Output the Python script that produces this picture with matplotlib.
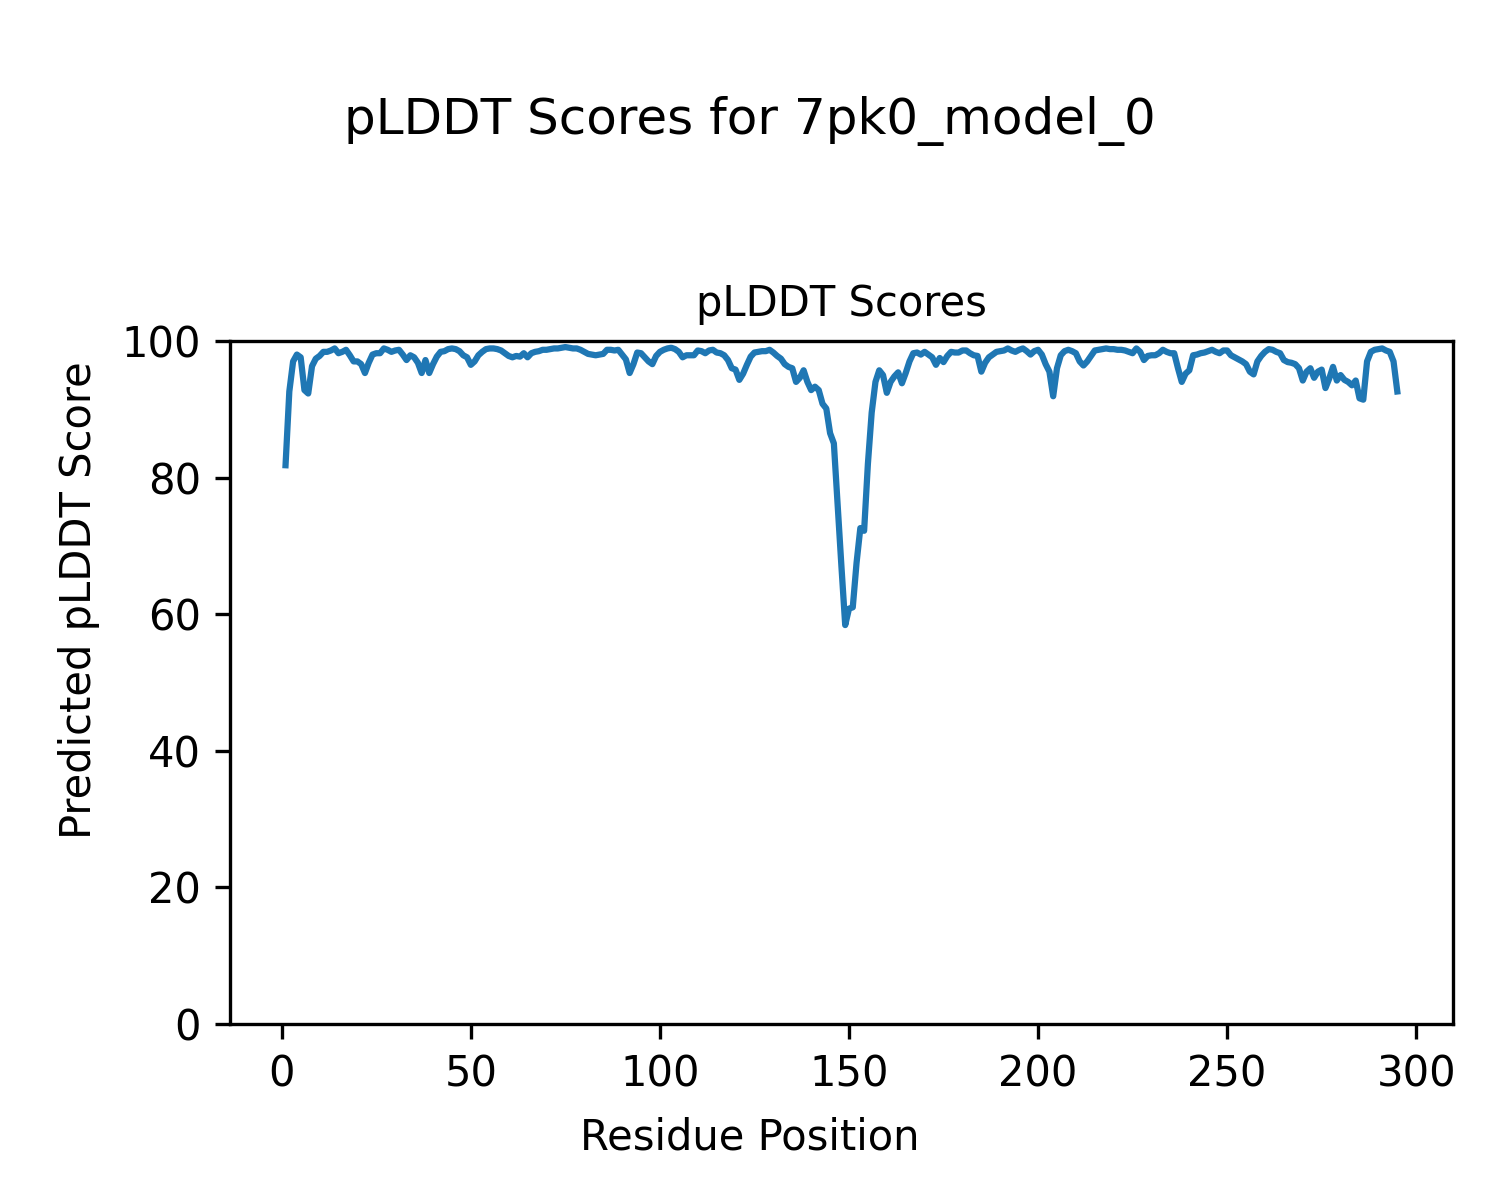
import numpy as np
import matplotlib
matplotlib.use("Agg")
import matplotlib.pyplot as plt

# pLDDT per residue
scores = [
    81.8, 92.6, 97.0, 98.0, 97.6, 92.8, 92.3, 96.3, 97.4, 97.8,
    98.4, 98.4, 98.6, 98.9, 98.2, 98.4, 98.7, 97.9, 97.0, 97.0,
    96.6, 95.3, 96.8, 98.0, 98.2, 98.2, 98.9, 98.7, 98.4, 98.6,
    98.7, 98.0, 97.2, 97.9, 97.6, 96.8, 95.3, 97.2, 95.3, 96.6,
    97.7, 98.4, 98.5, 98.8, 98.9, 98.8, 98.5, 97.9, 97.6, 96.5,
    97.0, 97.9, 98.4, 98.8, 98.9, 98.9, 98.8, 98.6, 98.2, 97.8,
    97.6, 97.8, 97.7, 98.2, 97.6, 98.2, 98.4, 98.5, 98.7, 98.7,
    98.8, 98.9, 98.9, 99.0, 99.1, 99.0, 98.9, 98.9, 98.7, 98.4,
    98.1, 98.0, 97.9, 98.0, 98.1, 98.7, 98.7, 98.6, 98.7, 98.0,
    97.3, 95.3, 96.6, 98.3, 98.2, 97.6, 97.0, 96.6, 97.8, 98.4,
    98.7, 98.9, 99.0, 98.8, 98.4, 97.6, 97.9, 97.9, 97.9, 98.6,
    98.5, 98.2, 98.6, 98.7, 98.3, 98.2, 97.9, 97.2, 96.0, 95.8,
    94.3, 95.2, 96.5, 97.7, 98.3, 98.4, 98.5, 98.5, 98.7, 98.3,
    97.8, 97.4, 96.6, 96.2, 96.0, 94.0, 94.6, 95.7, 94.0, 92.8,
    93.3, 92.8, 90.8, 90.1, 86.5, 85.0, 76.0, 67.0, 58.4, 60.8,
    61.0, 67.5, 72.6, 72.2, 82.0, 89.5, 94.0, 95.7, 95.0, 92.4,
    94.0, 94.8, 95.4, 93.8, 95.3, 97.0, 98.2, 98.3, 98.0, 98.4,
    98.0, 97.6, 96.5, 97.5, 96.9, 97.8, 98.4, 98.3, 98.3, 98.6,
    98.6, 98.2, 97.9, 97.8, 95.5, 96.8, 97.6, 98.0, 98.4, 98.5,
    98.6, 98.9, 98.6, 98.4, 98.7, 98.9, 98.5, 98.0, 98.5, 98.7,
    98.0, 96.6, 95.5, 91.9, 96.0, 97.9, 98.5, 98.7, 98.5, 98.2,
    97.0, 96.4, 97.0, 97.8, 98.6, 98.7, 98.8, 98.9, 98.8, 98.8,
    98.7, 98.7, 98.6, 98.4, 98.2, 98.9, 98.4, 97.2, 97.8, 97.9,
    97.9, 98.2, 98.7, 98.4, 98.2, 98.2, 96.0, 94.0, 95.2, 95.7,
    97.9, 98.0, 98.2, 98.3, 98.5, 98.7, 98.4, 98.2, 98.6, 98.6,
    97.9, 97.6, 97.3, 97.0, 96.6, 95.5, 95.1, 97.0, 97.8, 98.4,
    98.8, 98.7, 98.4, 98.2, 97.2, 96.9, 96.8, 96.6, 96.0, 94.2,
    95.5, 96.0, 94.6, 95.5, 95.8, 93.1, 94.5, 96.2, 94.2, 95.0,
    94.3, 94.0, 93.5, 94.2, 91.6, 91.4, 97.0, 98.4, 98.7, 98.8,
    98.9, 98.6, 98.4, 97.0, 92.6,
]
residues = np.arange(1, len(scores) + 1)

fig = plt.figure(figsize=(5, 4), dpi=300)
fig.suptitle("pLDDT Scores for 7pk0_model_0", fontsize=12, y=0.92)
fig.supxlabel("Residue Position", fontsize=10, y=0.052, va="center")
fig.supylabel("Predicted pLDDT Score", fontsize=10, x=0.053, ha="center")

ax = fig.add_axes([0.1533, 0.1467, 0.8153, 0.5692])
ax.plot(residues, scores)
ax.set_ylim(0, 100)
ax.set_title("pLDDT Scores", fontsize=10)

fig.savefig("out.png", dpi=300)
